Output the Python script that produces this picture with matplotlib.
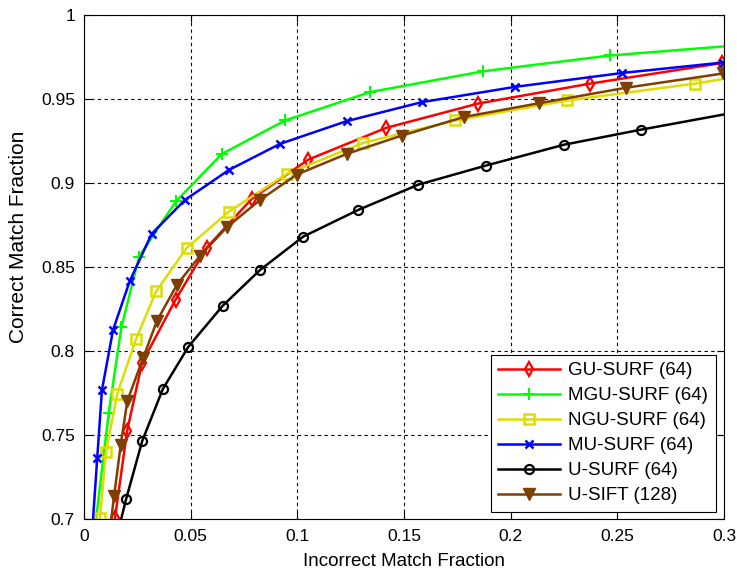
from matplotlib import pyplot as plt
import numpy as np

plt.rcParams['font.family'] = ['Liberation Sans', 'DejaVu Sans']

# incorrect / correct match fractions per descriptor
gu_x = [0.0145, 0.0202, 0.0272, 0.0429, 0.0575, 0.0786, 0.1051, 0.1416, 0.1848, 0.2370, 0.2989]
gu_y = [0.7006, 0.7524, 0.7930, 0.8305, 0.8615, 0.8905, 0.9139, 0.9328, 0.9473, 0.9591, 0.9714]

mgu_x = [0.0056, 0.0116, 0.0175, 0.0258, 0.0431, 0.0646, 0.0942, 0.1341, 0.1871, 0.2466, 0.3000]
mgu_y = [0.6994, 0.7633, 0.8140, 0.8561, 0.8891, 0.9173, 0.9372, 0.9541, 0.9665, 0.9759, 0.9813]

ngu_x = [0.0075, 0.0103, 0.0156, 0.0244, 0.0338, 0.0481, 0.0680, 0.0950, 0.1309, 0.1739, 0.2264, 0.2866, 0.3000]
ngu_y = [0.7006, 0.7399, 0.7745, 0.8071, 0.8355, 0.8613, 0.8830, 0.9054, 0.9239, 0.9372, 0.9491, 0.9592, 0.9620]

mu_x = [0.0042, 0.0062, 0.0084, 0.0136, 0.0214, 0.0317, 0.0473, 0.0680, 0.0919, 0.1231, 0.1583, 0.2020, 0.2524, 0.2995]
mu_y = [0.6994, 0.7365, 0.7767, 0.8125, 0.8415, 0.8697, 0.8899, 0.9078, 0.9233, 0.9368, 0.9481, 0.9572, 0.9655, 0.9717]

u_x = [0.0173, 0.0197, 0.0273, 0.0370, 0.0489, 0.0650, 0.0825, 0.1028, 0.1286, 0.1567, 0.1885, 0.2251, 0.2609, 0.3000]
u_y = [0.6994, 0.7117, 0.7465, 0.7775, 0.8025, 0.8269, 0.8482, 0.8681, 0.8840, 0.8990, 0.9104, 0.9228, 0.9317, 0.9408]

sift_x = [0.0127, 0.0141, 0.0172, 0.0203, 0.0278, 0.0342, 0.0436, 0.0544, 0.0669, 0.0825, 0.0997,
          0.1231, 0.1489, 0.1781, 0.2134, 0.2541, 0.2997]
sift_y = [0.6994, 0.7137, 0.7441, 0.7703, 0.7961, 0.8180, 0.8395, 0.8567, 0.8736, 0.8899, 0.9050,
          0.9173, 0.9282, 0.9393, 0.9475, 0.9567, 0.9652]

fig = plt.figure(figsize=(7.37, 5.72), dpi=100)
ax = fig.add_axes([0.114, 0.0927, 0.8684, 0.8811])

fs = 12.5
lw = 1.8
ax.plot(gu_x, gu_y, color='#ff0000', lw=lw, marker='d', ms=7, mfc='none', mew=1.6,
        label='GU-SURF (64)')
ax.plot(mgu_x, mgu_y, color='#00ff00', lw=lw, marker='+', ms=8, mew=1.5,
        markevery=slice(1, -1), label='MGU-SURF (64)')
ax.plot(ngu_x, ngu_y, color='#dddd00', lw=lw, marker='s', ms=7, mfc='none', mew=1.8,
        markevery=slice(0, -1), label='NGU-SURF (64)')
ax.plot(mu_x, mu_y, color='#0000ff', lw=lw, marker='x', ms=6, mew=1.8,
        markevery=slice(1, None), label='MU-SURF (64)')
ax.plot(u_x, u_y, color='black', lw=lw, marker='o', ms=6.5, mfc='none', mew=1.6,
        markevery=slice(1, -1), label='U-SURF (64)')
ax.plot(sift_x, sift_y, color='#7f3f00', lw=lw, marker='v', ms=8.5,
        markevery=slice(1, None), label='U-SIFT (128)')

ax.set_xlim(0, 0.3)
ax.set_ylim(0.7, 1.0)
ax.set_xticks(np.arange(0, 0.301, 0.05))
ax.set_yticks(np.arange(0.7, 1.001, 0.05))
ax.set_xticklabels(['0', '0.05', '0.1', '0.15', '0.2', '0.25', '0.3'], fontsize=fs)
ax.set_yticklabels(['0.7', '0.75', '0.8', '0.85', '0.9', '0.95', '1'], fontsize=fs)
ax.tick_params(direction='in', top=True, right=True, length=5)
ax.tick_params(axis='x', pad=7)
ax.tick_params(axis='y', pad=6.5)
ax.grid(True, color='black', linestyle=(0, (3, 3)), linewidth=0.8)
for s in ax.spines.values():
    s.set_linewidth(0.8)

ax.set_xlabel('Incorrect Match Fraction', fontsize=13.5, va='center')
ax.xaxis.set_label_coords(0.5, -0.085)
ax.set_ylabel('Correct Match Fraction', fontsize=15, va='center')
ax.yaxis.set_label_coords(-0.103, 0.56)

leg = ax.legend(loc='lower right', bbox_to_anchor=(0.987, 0.0145), fontsize=13.5,
                handlelength=3.3, handletextpad=0.45, fancybox=False, framealpha=1,
                edgecolor='black', borderaxespad=0, labelspacing=0.42)
leg.get_frame().set_linewidth(0.8)

fig.savefig('out.png', dpi=100)
